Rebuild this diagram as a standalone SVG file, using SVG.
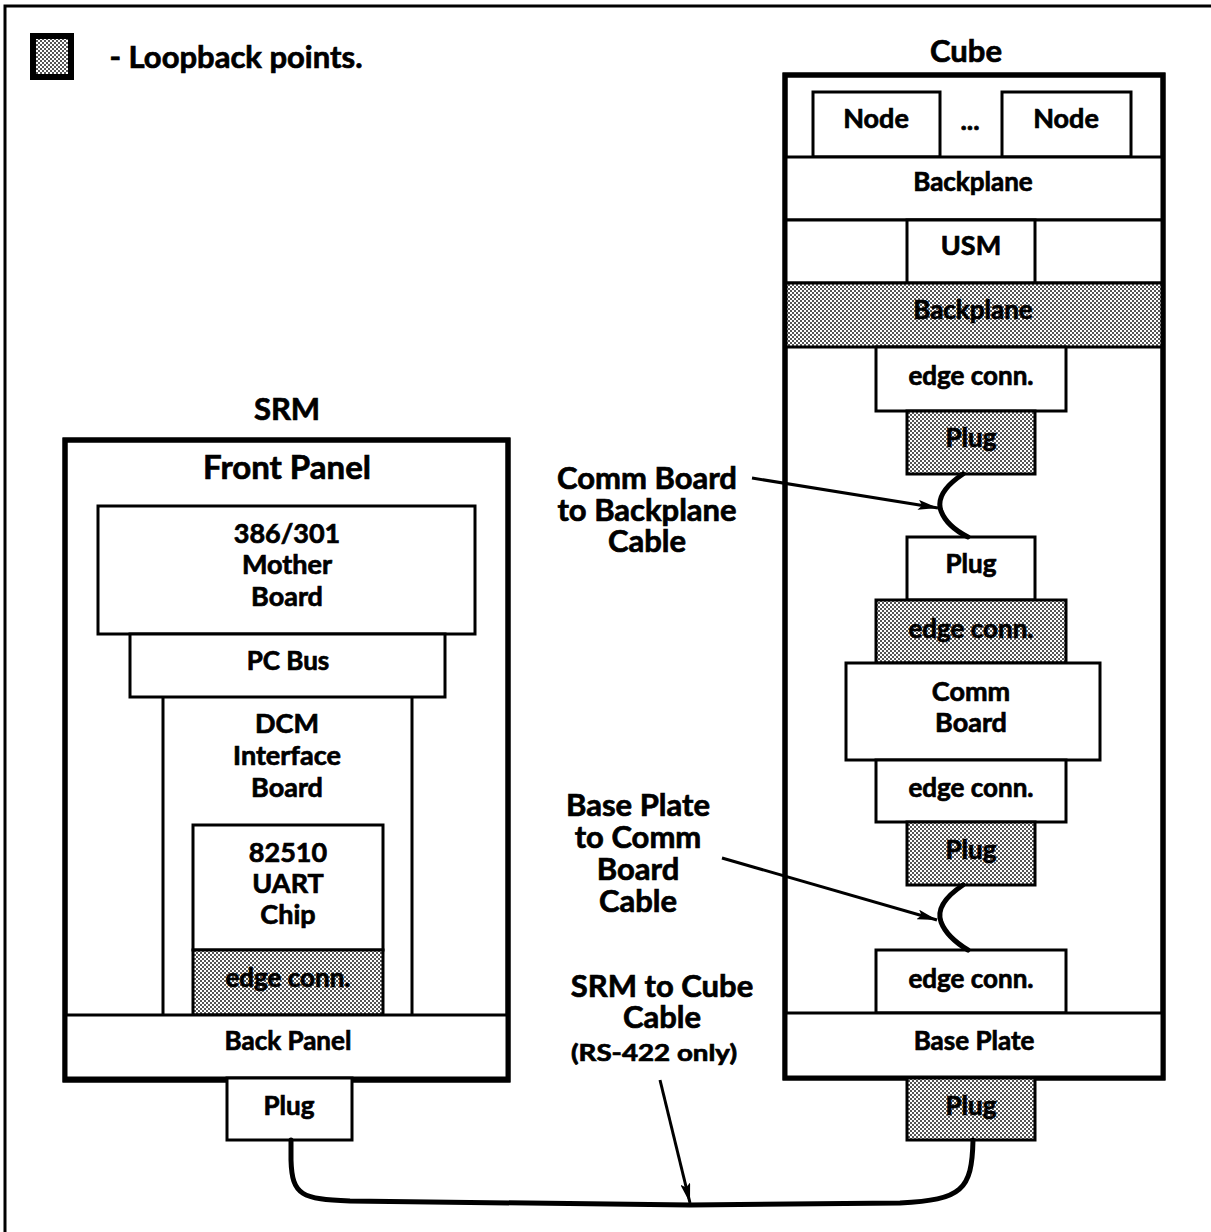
<svg xmlns="http://www.w3.org/2000/svg" width="1211" height="1232" viewBox="0 0 1211 1232">
<defs>
<pattern id="dots" width="4" height="4" patternUnits="userSpaceOnUse">
<rect width="4" height="4" fill="#ffffff"/>
<rect x="0" y="0" width="2" height="2" fill="#555"/>
<rect x="2" y="2" width="2" height="2" fill="#555"/>
</pattern>
<marker id="arr" viewBox="0 0 20 10" refX="20" refY="5" markerWidth="20" markerHeight="10" markerUnits="userSpaceOnUse" orient="auto">
<path d="M0,0 L20,5 L0,10 L4,5 Z" fill="#000"/>
</marker>
</defs>
<style>
text{font-family:"Lato","Liberation Sans",sans-serif;font-weight:bold;fill:#000;stroke:#000;stroke-width:0.7;text-anchor:middle}
.big{font-size:31px}
.mid{font-size:27px}
.sm{font-size:26px}
.xs{font-size:23px}
.box{fill:#fff;stroke:#000;stroke-width:3}
.shd{fill:url(#dots);stroke:#000;stroke-width:3}
.outer{fill:#fff;stroke:#000;stroke-width:5}
.ln{fill:none;stroke:#000;stroke-width:3}
.cable{fill:none;stroke:#000;stroke-width:5;stroke-linecap:round}
.arrow{fill:none;stroke:#000;stroke-width:3;marker-end:url(#arr)}
</style>
<rect width="1211" height="1232" fill="#fff"/>
<path d="M5,1232 L5,6 L1211,6" fill="none" stroke="#000" stroke-width="3"/>

<g id="legend">
<rect x="33" y="36" width="38" height="41" fill="url(#dots)" stroke="#000" stroke-width="6"/>
<text x="236" y="68" class="big">- Loopback points.</text>
</g>

<g id="cube">
<text x="966" y="62" class="big">Cube</text>
<rect x="785" y="75" width="378" height="1003" class="outer"/>
</g>
<g id="cube-node1"><rect x="813" y="92" width="127" height="65" class="box"/><text x="876" y="128" class="mid">Node</text></g>
<g id="cube-dots"><text x="970" y="130" class="mid">...</text></g>
<g id="cube-node2"><rect x="1002" y="92" width="129" height="65" class="box"/><text x="1066" y="128" class="mid">Node</text></g>
<g id="cube-backplane1"><rect x="785" y="157" width="378" height="63" class="box"/><text x="973" y="191" class="sm">Backplane</text></g>
<g id="cube-usmrow"><rect x="785" y="220" width="378" height="63" class="box"/></g>
<g id="cube-usm"><rect x="907" y="220" width="128" height="63" class="box"/><text x="971" y="255" class="mid">USM</text></g>
<g id="cube-backplane2"><rect x="785" y="283" width="378" height="64" class="shd"/><text x="973" y="319" class="sm">Backplane</text></g>
<g id="cube-edge1"><rect x="876" y="347" width="190" height="64" class="box"/><text x="971" y="385" class="sm">edge conn.</text></g>
<g id="cube-plug1"><rect x="907" y="411" width="128" height="63" class="shd"/><text x="971" y="447" class="sm">Plug</text></g>
<g id="cube-plug2"><rect x="907" y="537" width="128" height="63" class="box"/><text x="971" y="573" class="sm">Plug</text></g>
<g id="cube-edge2"><rect x="876" y="600" width="190" height="63" class="shd"/><text x="971" y="638" class="sm">edge conn.</text></g>
<g id="cube-comm"><rect x="846" y="663" width="254" height="97" class="box"/><text x="971" y="701" class="mid">Comm</text><text x="971" y="732" class="mid">Board</text></g>
<g id="cube-edge3"><rect x="876" y="760" width="190" height="62" class="box"/><text x="971" y="797" class="sm">edge conn.</text></g>
<g id="cube-plug3"><rect x="907" y="822" width="128" height="63" class="shd"/><text x="971" y="859" class="sm">Plug</text></g>
<g id="cube-edge4"><rect x="876" y="950" width="190" height="63" class="box"/><text x="971" y="988" class="sm">edge conn.</text></g>
<g id="cube-baseplate"><rect x="785" y="1013" width="378" height="65" class="box"/><text x="974" y="1050" class="sm">Base Plate</text></g>
<g id="cube-frame"><rect x="785" y="75" width="378" height="1003" fill="none" stroke="#000" stroke-width="5"/></g>
<g id="cube-plug4"><rect x="907" y="1078" width="128" height="62" class="shd"/><text x="971" y="1115" class="sm">Plug</text></g>

<g id="srm">
<text x="287" y="420" class="big">SRM</text>
<rect x="65" y="440" width="443" height="640" class="outer"/>
<text x="287" y="479" style="font-size:33px">Front Panel</text>
</g>
<g id="srm-mother"><rect x="98" y="506" width="377" height="128" class="box"/><text x="287" y="543" class="mid">386/301</text><text x="287" y="574" class="mid">Mother</text><text x="287" y="606" class="mid">Board</text></g>
<g id="srm-pcbus"><rect x="130" y="634" width="315" height="63" class="box"/><text x="288" y="670" class="sm">PC Bus</text></g>
<g id="srm-dcm"><path d="M163,697 L163,1015 M412,697 L412,1015" class="ln"/><text x="287" y="733" class="mid">DCM</text><text x="287" y="765" class="mid">Interface</text><text x="287" y="797" class="mid">Board</text></g>
<g id="srm-uart"><rect x="193" y="825" width="190" height="125" class="box"/><text x="288" y="862" class="mid">82510</text><text x="288" y="893" class="mid">UART</text><text x="288" y="924" class="mid">Chip</text></g>
<g id="srm-edge"><rect x="193" y="950" width="190" height="65" class="shd"/><text x="288" y="987" class="sm">edge conn.</text></g>
<g id="srm-backpanel"><rect x="65" y="1015" width="443" height="63" class="box"/><text x="288" y="1050" class="sm">Back Panel</text></g>
<g id="srm-frame"><rect x="65" y="440" width="443" height="640" fill="none" stroke="#000" stroke-width="5"/></g>
<g id="srm-plug"><rect x="227" y="1078" width="125" height="62" class="box"/><text x="289" y="1115" class="sm">Plug</text></g>

<g id="labels">
<text x="647" y="489" class="big">Comm Board</text>
<text x="647" y="521" class="big">to Backplane</text>
<text x="647" y="552" class="big">Cable</text>
<text x="638" y="816" class="big">Base Plate</text>
<text x="638" y="848" class="big">to Comm</text>
<text x="638" y="880" class="big">Board</text>
<text x="638" y="912" class="big">Cable</text>
<text x="662" y="997" class="big">SRM to Cube</text>
<text x="662" y="1028" class="big">Cable</text>
<text x="654" y="1061" class="xs" textLength="166" lengthAdjust="spacingAndGlyphs">(RS-422 only)</text>
</g>

<g id="connectors">
<path d="M963,474 C948,484 936,497 941,511 C946,524 958,532 968,537" class="cable"/>
<path d="M963,885 C948,895 936,908 941,922 C946,935 958,944 968,950" class="cable"/>
<path d="M291,1140 L291,1160 C292,1196 302,1199 350,1201 L690,1205 L900,1203 C962,1200 972,1190 973,1140" class="cable"/>
<path d="M752,478 L938,508" class="arrow"/>
<path d="M722,858 L937,920" class="arrow"/>
<path d="M660,1080 L690,1203" class="arrow"/>
</g>
</svg>
